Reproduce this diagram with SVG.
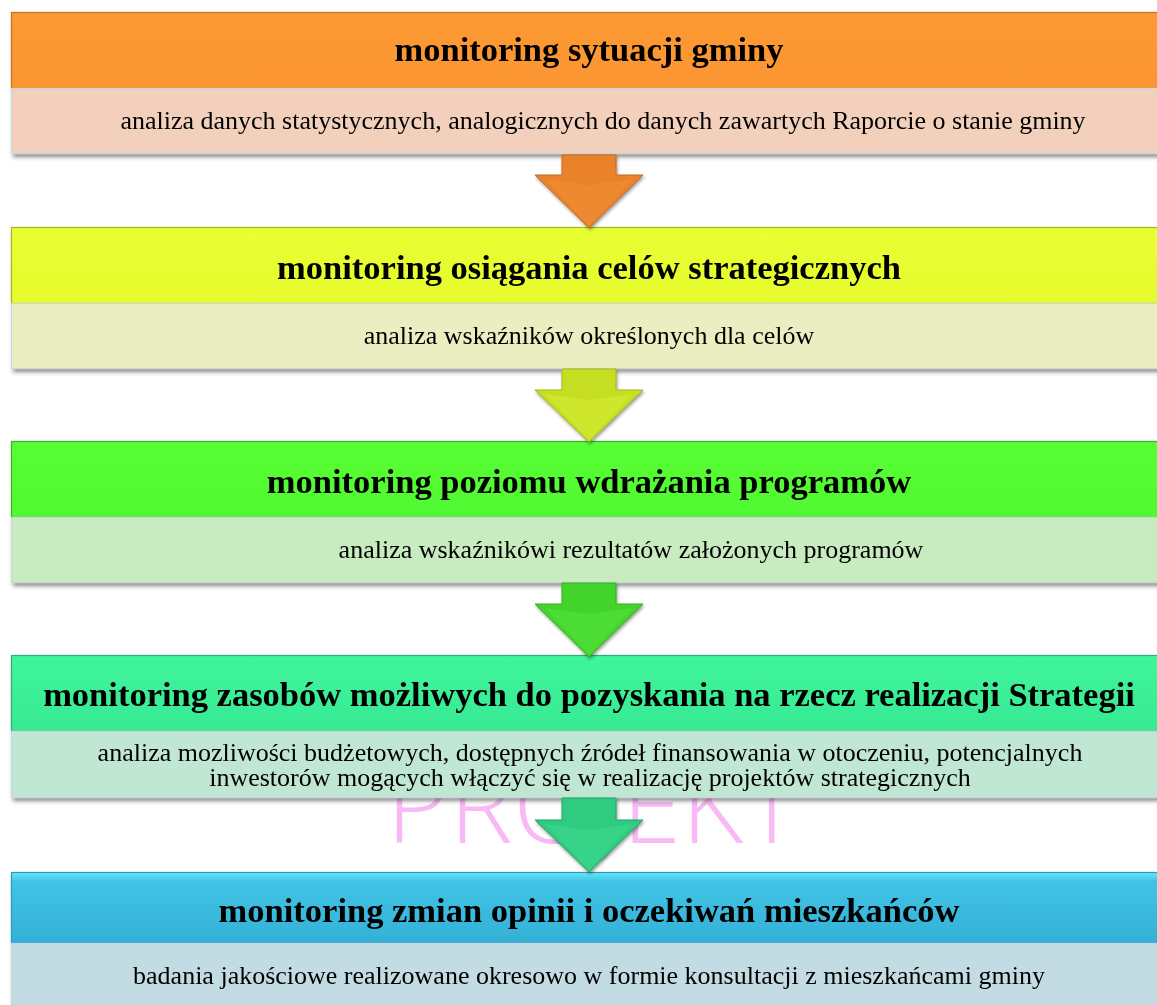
<svg xmlns="http://www.w3.org/2000/svg" width="1157" height="1005" viewBox="0 0 1157 1005">
<defs>
<filter id="sh" x="-5%" y="-20%" width="110%" height="150%">
<feDropShadow dx="2" dy="3" stdDeviation="2" flood-color="#333" flood-opacity="0.55"/>
</filter>
<filter id="ash" x="-20%" y="-20%" width="140%" height="140%">
<feDropShadow dx="1" dy="2" stdDeviation="1.5" flood-color="#222" flood-opacity="0.45"/>
</filter>
<linearGradient id="g1" x1="0" y1="0" x2="0" y2="1"><stop offset="0" stop-color="#FC9A34"/><stop offset="1" stop-color="#FB9530"/></linearGradient>
<linearGradient id="g2" x1="0" y1="0" x2="0" y2="1"><stop offset="0" stop-color="#E9FF33"/><stop offset="1" stop-color="#E5FB2C"/></linearGradient>
<linearGradient id="g3" x1="0" y1="0" x2="0" y2="1"><stop offset="0" stop-color="#57FF35"/><stop offset="1" stop-color="#50F830"/></linearGradient>
<linearGradient id="g4" x1="0" y1="0" x2="0" y2="1"><stop offset="0" stop-color="#3FF59B"/><stop offset="1" stop-color="#37EA93"/></linearGradient>
<linearGradient id="g5" x1="0" y1="0" x2="0" y2="1"><stop offset="0" stop-color="#66E8FA"/><stop offset="0.12" stop-color="#40C4E6"/><stop offset="1" stop-color="#35B0D6"/></linearGradient>
</defs>
<style>
.h{font-family:"Liberation Serif","Times New Roman",serif;font-weight:bold;font-size:34.5px;fill:#000;text-anchor:middle}
.s{font-family:"Liberation Serif","Times New Roman",serif;font-size:26px;fill:#000;text-anchor:middle}
.hb{stroke-width:1.2}
.sb{stroke:#C9D6DC;stroke-width:1.2}
.wm{font-family:"Open Sans","Liberation Sans",sans-serif;font-weight:300;font-size:104px;fill:#F9B9F6}
.ar{stroke-width:1;filter:url(#ash)}
</style>
<rect width="1157" height="1005" fill="#fff"/>
<text class="wm" x="386" y="843" textLength="414" lengthAdjust="spacingAndGlyphs">PROJEKT</text>

<g id="node1" filter="url(#sh)">
<rect x="11.5" y="12.5" width="1170" height="76" fill="url(#g1)" stroke="#C47220" class="hb"/>
<rect x="11.5" y="88.5" width="1170" height="65" fill="#F3D0BC" class="sb"/>
<text class="h" x="589" y="61">monitoring sytuacji gminy</text>
<text class="s" x="603" y="129">analiza danych statystycznych, analogicznych do danych zawartych Raporcie o stanie gminy</text>
</g>
<g id="node2" filter="url(#sh)">
<rect x="11.5" y="227.5" width="1170" height="76" fill="url(#g2)" stroke="#A6B71F" class="hb"/>
<rect x="11.5" y="303.5" width="1170" height="65" fill="#EBEEC0" class="sb"/>
<text class="h" x="589" y="279">monitoring osiągania celów strategicznych</text>
<text class="s" x="589" y="344">analiza wskaźników określonych dla celów</text>
</g>
<g id="node3" filter="url(#sh)">
<rect x="11.5" y="441.5" width="1170" height="76" fill="url(#g3)" stroke="#3DAF28" class="hb"/>
<rect x="11.5" y="517.5" width="1170" height="65" fill="#C8EBC0" class="sb"/>
<text class="h" x="589" y="493">monitoring poziomu wdrażania programów</text>
<text class="s" x="631" y="558">analiza wskaźnikówi rezultatów założonych programów</text>
</g>
<g id="node4" filter="url(#sh)">
<rect x="11.5" y="655.5" width="1170" height="76" fill="url(#g4)" stroke="#2DAE6F" class="hb"/>
<rect x="11.5" y="731.5" width="1170" height="66" fill="#C0E7D3" class="sb"/>
<text class="h" x="589" y="706">monitoring zasobów możliwych do pozyskania na rzecz realizacji Strategii</text>
<text class="s" x="590" y="761">analiza mozliwości budżetowych, dostępnych źródeł finansowania w otoczeniu, potencjalnych</text>
<text class="s" x="590" y="786">inwestorów mogących włączyć się w realizację projektów strategicznych</text>
</g>
<g id="node5" filter="url(#sh)">
<rect x="11.5" y="872.5" width="1170" height="71" fill="url(#g5)" stroke="#2B9BBD" class="hb"/>
<rect x="11.5" y="943.5" width="1170" height="80" fill="#C3DCE3" class="sb"/>
<text class="h" x="589" y="922">monitoring zmian opinii i oczekiwań mieszkańców</text>
<text class="s" x="589" y="984">badania jakościowe realizowane okresowo w formie konsultacji z mieszkańcami gminy</text>
</g>

<g id="connectors">
<path class="ar" d="M562,155 L616,155 L616,175 L643,175 L589,228 L535,175 L562,175 Z" fill="#E9822B" stroke="#C96A1E"/>
<path d="M589,226 L545,179 L589,185 L633,179 Z" fill="#F08E36" opacity="0.6"/>
<path class="ar" d="M562,369 L616,369 L616,390 L643,390 L589,442 L535,390 L562,390 Z" fill="#C5DE23" stroke="#A5BB17"/>
<path d="M589,440 L545,394 L589,400 L633,394 Z" fill="#D3EC35" opacity="0.6"/>
<path class="ar" d="M562,583 L616,583 L616,604 L643,604 L589,657 L535,604 L562,604 Z" fill="#43D42C" stroke="#33B21E"/>
<path d="M589,655 L545,608 L589,614 L633,608 Z" fill="#52E23A" opacity="0.6"/>
<path class="ar" d="M562,798 L616,798 L616,820 L643,820 L589,872 L535,820 L562,820 Z" fill="#2FCB80" stroke="#22A866"/>
<path d="M589,870 L545,824 L589,830 L633,824 Z" fill="#3ED98F" opacity="0.6"/>
</g>
</svg>
